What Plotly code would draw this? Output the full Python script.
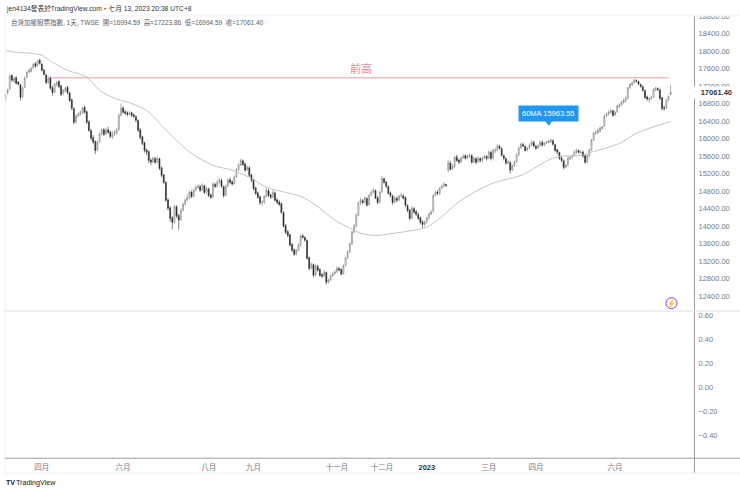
import plotly.graph_objects as go
from plotly.subplots import make_subplots

# Daily bars of the TWSE index, ten bars per row.
opens = [
    16900, 17050, 17140, 17440, 17300, 17390, 17290, 17220, 16960, 17180,
    17400, 17520, 17530, 17620, 17710, 17670, 17790, 17700, 17560, 17450,
    17290, 17390, 17160, 17060, 17230, 17300, 17200, 17030, 17090, 17170,
    17040, 16880, 16680, 16380, 16520, 16560, 16590, 16710, 16610, 16380,
    16180, 16020, 15930, 15750, 15930, 16110, 16200, 16110, 16200, 16150,
    16040, 16110, 16130, 16210, 16540, 16700, 16610, 16590, 16560, 16590,
    16540, 16500, 16410, 16200, 16040, 15900, 15740, 15700, 15510, 15470,
    15540, 15470, 15540, 15330, 15170, 15000, 14600, 14420, 14190, 14100,
    14440, 14240, 14150, 14370, 14510, 14600, 14650, 14780, 14690, 14830,
    14880, 14900, 14830, 14920, 14780, 14850, 14710, 14670, 14950, 14920,
    15010, 15040, 14900, 14710, 14920, 15060, 15010, 14970, 15130, 15290,
    15400, 15490, 15420, 15290, 15330, 15170, 15060, 14870, 14760, 14670,
    14530, 14550, 14690, 14810, 14710, 14670, 14760, 14600, 14550, 14510,
    14310, 14010, 13870, 13800, 13580, 13460, 13370, 13460, 13580, 13780,
    13740, 13670, 13280, 13050, 13120, 12890, 13080, 13010, 12890, 12870,
    12940, 12730, 12780, 12870, 12920, 12960, 13030, 13010, 12920, 13100,
    13280, 13420, 13600, 13870, 14010, 14260, 14530, 14580, 14550, 14630,
    14490, 14710, 14780, 14810, 14650, 14550, 14780, 15080, 15010, 14900,
    14760, 14690, 14550, 14630, 14600, 14690, 14690, 14650, 14470, 14370,
    14190, 14400, 14330, 14260, 14190, 14100, 14050, 14100, 14190, 14280,
    14340, 14710, 14780, 14740, 14870, 14920, 14950, 15270, 15440, 15310,
    15360, 15580, 15510, 15470, 15560, 15610, 15560, 15590, 15610, 15470,
    15540, 15470, 15540, 15510, 15560, 15590, 15560, 15680, 15560, 15720,
    15740, 15820, 15770, 15610, 15540, 15450, 15450, 15290, 15380, 15470,
    15630, 15790, 15860, 15820, 15740, 15790, 15860, 15910, 15820, 15790,
    15840, 15910, 15860, 15900, 15910, 15930, 15950, 15860, 15740, 15680,
    15560, 15490, 15350, 15400, 15540, 15580, 15610, 15680, 15720, 15680,
    15690, 15610, 15470, 15610, 15740, 15970, 16130, 16130, 16170, 16230,
    16280, 16520, 16560, 16590, 16630, 16540, 16610, 16730, 16770, 16820,
    16860, 16930, 17160, 17230, 17270, 17320, 17300, 17230, 17180, 17090,
    16950, 16890, 16910, 16950, 17110, 17140, 17110, 16930, 16700, 16700,
    16880, 16994.59,
]
highs = [
    17030, 17140, 17470, 17470, 17410, 17420, 17310, 17250, 17190, 17420,
    17540, 17600, 17640, 17730, 17740, 17800, 17820, 17720, 17590, 17480,
    17420, 17420, 17200, 17270, 17310, 17330, 17230, 17130, 17190, 17200,
    17070, 16920, 16710, 16550, 16600, 16640, 16730, 16760, 16640, 16420,
    16220, 16080, 15960, 15950, 16140, 16230, 16240, 16240, 16270, 16180,
    16170, 16190, 16240, 16580, 16800, 16740, 16650, 16620, 16630, 16610,
    16570, 16530, 16440, 16240, 16060, 15930, 15770, 15730, 15550, 15590,
    15580, 15590, 15560, 15360, 15190, 15020, 14640, 14450, 14230, 14490,
    14480, 14280, 14410, 14540, 14630, 14720, 14810, 14810, 14860, 14930,
    14970, 14950, 14980, 14950, 14900, 14880, 14750, 15000, 14990, 15050,
    15100, 15080, 14930, 14950, 15090, 15110, 15050, 15160, 15320, 15440,
    15540, 15520, 15450, 15390, 15370, 15190, 15090, 14900, 14790, 14700,
    14590, 14710, 14880, 14850, 14740, 14820, 14790, 14640, 14600, 14540,
    14340, 14050, 13910, 13830, 13620, 13490, 13480, 13610, 13810, 13820,
    13770, 13700, 13310, 13170, 13150, 13130, 13120, 13040, 12930, 12990,
    12970, 12800, 12900, 12950, 13000, 13080, 13070, 13030, 13130, 13300,
    13450, 13630, 13900, 14050, 14290, 14560, 14650, 14620, 14680, 14660,
    14740, 14810, 14870, 14840, 14680, 14810, 15140, 15110, 15030, 14930,
    14790, 14720, 14680, 14680, 14720, 14760, 14730, 14680, 14500, 14390,
    14450, 14440, 14370, 14310, 14220, 14130, 14130, 14220, 14310, 14370,
    14730, 14810, 14820, 14890, 14950, 15000, 14970, 15500, 15490, 15420,
    15610, 15630, 15540, 15590, 15640, 15640, 15630, 15660, 15640, 15590,
    15580, 15590, 15570, 15590, 15630, 15620, 15730, 15720, 15770, 15790,
    15870, 15860, 15800, 15640, 15570, 15510, 15480, 15410, 15500, 15660,
    15820, 15900, 15910, 15840, 15810, 15890, 15960, 15950, 15860, 15870,
    15960, 15960, 15920, 15950, 15980, 15990, 15980, 15880, 15770, 15700,
    15600, 15520, 15430, 15590, 15600, 15640, 15730, 15770, 15760, 15720,
    15730, 15640, 15640, 15770, 15990, 16150, 16180, 16230, 16280, 16290,
    16550, 16590, 16640, 16680, 16660, 16640, 16780, 16800, 16860, 16910,
    16970, 17180, 17270, 17300, 17360, 17350, 17320, 17260, 17210, 17120,
    16980, 16940, 16970, 17150, 17180, 17170, 17140, 16950, 16750, 16900,
    16990, 17223.86,
]
lows = [
    16860, 17000, 17100, 17300, 17270, 17240, 17210, 16870, 16920, 17150,
    17370, 17490, 17510, 17590, 17620, 17640, 17690, 17530, 17440, 17240,
    17240, 17110, 16980, 17030, 17190, 17150, 16970, 17000, 17060, 17010,
    16840, 16650, 16330, 16340, 16480, 16520, 16560, 16570, 16340, 16150,
    15960, 15870, 15650, 15700, 15900, 16080, 16060, 16080, 16110, 16010,
    15990, 16060, 16090, 16180, 16500, 16570, 16540, 16510, 16530, 16490,
    16470, 16370, 16150, 15980, 15850, 15680, 15620, 15440, 15390, 15440,
    15420, 15430, 15280, 15120, 14960, 14560, 14360, 14100, 13930, 14060,
    14190, 13920, 14120, 14340, 14470, 14570, 14620, 14640, 14660, 14790,
    14850, 14780, 14800, 14740, 14750, 14660, 14620, 14640, 14870, 14880,
    14970, 14880, 14650, 14680, 14890, 14970, 14930, 14950, 15100, 15260,
    15370, 15370, 15240, 15260, 15120, 15000, 14810, 14710, 14620, 14480,
    14470, 14510, 14650, 14670, 14620, 14630, 14560, 14500, 14460, 14280,
    13970, 13820, 13740, 13530, 13410, 13320, 13330, 13430, 13540, 13720,
    13650, 13230, 12990, 13010, 12830, 12860, 12960, 12840, 12810, 12840,
    12670, 12690, 12750, 12840, 12890, 12930, 12970, 12880, 12900, 13080,
    13250, 13390, 13570, 13840, 13970, 14230, 14480, 14510, 14510, 14450,
    14470, 14680, 14750, 14620, 14500, 14520, 14760, 14970, 14870, 14720,
    14660, 14490, 14520, 14550, 14570, 14650, 14610, 14440, 14320, 14130,
    14150, 14280, 14230, 14140, 14040, 13960, 13990, 14060, 14150, 14250,
    14320, 14680, 14710, 14720, 14850, 14890, 14900, 15240, 15270, 15280,
    15330, 15470, 15420, 15440, 15530, 15520, 15530, 15560, 15430, 15440,
    15420, 15440, 15460, 15470, 15530, 15500, 15530, 15500, 15520, 15670,
    15710, 15750, 15590, 15500, 15400, 15420, 15200, 15260, 15350, 15450,
    15600, 15760, 15800, 15700, 15710, 15760, 15830, 15800, 15740, 15760,
    15810, 15820, 15830, 15880, 15890, 15900, 15840, 15700, 15640, 15510,
    15460, 15300, 15330, 15370, 15510, 15540, 15590, 15650, 15660, 15650,
    15560, 15420, 15440, 15570, 15720, 15940, 16080, 16100, 16140, 16200,
    16260, 16490, 16530, 16570, 16500, 16510, 16590, 16700, 16740, 16800,
    16830, 16900, 17130, 17200, 17250, 17280, 17220, 17160, 17070, 16900,
    16860, 16810, 16890, 16930, 17080, 17090, 16880, 16640, 16630, 16680,
    16860, 16994.59,
]
closes = [
    16990, 17100, 17420, 17330, 17370, 17260, 17240, 16940, 17150, 17370,
    17510, 17560, 17600, 17690, 17650, 17760, 17720, 17560, 17470, 17280,
    17370, 17150, 17050, 17240, 17280, 17190, 17010, 17100, 17150, 17050,
    16870, 16690, 16370, 16510, 16550, 16580, 16690, 16600, 16370, 16190,
    16010, 15920, 15730, 15920, 16100, 16190, 16100, 16190, 16140, 16050,
    16100, 16140, 16190, 16530, 16690, 16600, 16580, 16550, 16580, 16530,
    16510, 16420, 16190, 16030, 15890, 15730, 15690, 15500, 15460, 15550,
    15460, 15550, 15320, 15160, 15000, 14590, 14410, 14180, 14090, 14450,
    14230, 14140, 14360, 14500, 14590, 14640, 14770, 14680, 14820, 14890,
    14910, 14820, 14930, 14770, 14860, 14700, 14660, 14960, 14910, 15000,
    15050, 14910, 14700, 14910, 15050, 15000, 14960, 15120, 15280, 15390,
    15500, 15410, 15280, 15340, 15160, 15050, 14860, 14750, 14660, 14540,
    14540, 14680, 14820, 14700, 14660, 14770, 14590, 14540, 14500, 14320,
    14000, 13860, 13790, 13570, 13450, 13360, 13450, 13570, 13770, 13750,
    13680, 13270, 13040, 13130, 12880, 13090, 13000, 12880, 12860, 12950,
    12720, 12770, 12860, 12910, 12950, 13040, 13000, 12910, 13090, 13270,
    13410, 13590, 13860, 14000, 14250, 14520, 14590, 14540, 14640, 14480,
    14700, 14770, 14820, 14640, 14540, 14770, 15090, 15000, 14910, 14750,
    14700, 14540, 14640, 14590, 14680, 14700, 14640, 14480, 14360, 14180,
    14410, 14320, 14270, 14180, 14090, 14040, 14090, 14180, 14270, 14320,
    14700, 14770, 14750, 14860, 14910, 14960, 14930, 15450, 15300, 15370,
    15570, 15500, 15460, 15550, 15600, 15550, 15600, 15620, 15460, 15550,
    15460, 15550, 15500, 15550, 15600, 15550, 15690, 15550, 15730, 15730,
    15830, 15780, 15620, 15550, 15440, 15460, 15280, 15370, 15460, 15620,
    15780, 15870, 15830, 15730, 15780, 15850, 15920, 15830, 15780, 15830,
    15920, 15850, 15890, 15920, 15940, 15960, 15870, 15730, 15690, 15550,
    15500, 15340, 15390, 15550, 15570, 15600, 15690, 15730, 15690, 15690,
    15600, 15460, 15600, 15730, 15960, 16120, 16140, 16190, 16240, 16260,
    16510, 16550, 16600, 16640, 16530, 16600, 16740, 16760, 16830, 16870,
    16920, 17150, 17240, 17260, 17330, 17310, 17240, 17190, 17100, 16940,
    16900, 16900, 16940, 17120, 17150, 17120, 16920, 16690, 16690, 16870,
    16960, 17061.40,
]

# 60 day average, read at the bars where the curve bends
ma_bars = [0, 5, 13, 17, 22, 29, 38, 44, 52, 59, 66, 73, 80, 87, 97, 106, 115, 122, 131,
           138, 145, 154, 162, 166, 173, 182, 191, 197, 203, 211, 219, 229, 241, 257,
           270, 272, 287, 295, 311]
ma_values = [18010, 17970, 17940, 17900, 17740, 17560, 17400, 17100, 16900, 16800, 16640,
             16300, 15960, 15660, 15390, 15280, 15090, 14890, 14770, 14680, 14480, 14140,
             13930, 13840, 13790, 13840, 13910, 13980, 14180, 14520, 14770, 15000, 15160,
             15570, 15620, 15660, 15890, 16120, 16390]

prev_high_bars = [21, 310]
prev_high = [17385, 17385]

tick_bars = [17, 55, 95, 116, 155, 176, 197, 226, 248, 285]
tick_names = ["四月", "六月", "八月", "九月", "十一月", "十二月",
              "<b><span style='color:#333'>2023</span></b>", "三月", "四月", "六月"]
price_ticks = [12400, 12800, 13200, 13600, 14000, 14400, 14800, 15200, 15600,
               16000, 16400, 16800, 17200, 17600, 18000, 18400, 18800]
lower_ticks = [-0.4, -0.2, 0, 0.2, 0.4, 0.6]

WIDTH = 740
HEIGHT = 492
FONT = "Liberation Sans, Noto Sans CJK TC, sans-serif"
AXIS_GREY = "#9a9a9a"
TEXT_GREY = "#787b86"


def px(x):
    return x / WIDTH


def py(y):
    # paper fraction from a distance measured off the top of the page
    return 1 - y / HEIGHT


def paper_line(x0, y0, x1, y1, color, width=1):
    return dict(type="line", xref="paper", yref="paper", layer="above",
                x0=px(x0), y0=py(y0), x1=px(x1), y1=py(y1),
                line=dict(color=color, width=width))


def text_note(x, y, text, size, color, anchor="left"):
    return dict(xref="paper", yref="paper", x=px(x), y=py(y), text=text, showarrow=False,
                xanchor=anchor, yanchor="middle",
                font=dict(family=FONT, size=size, color=color))


def main():
    bars = list(range(len(closes)))
    fig = make_subplots(rows=2, cols=1, shared_xaxes=True)

    fig.add_trace(go.Candlestick(
        x=bars, open=opens, high=highs, low=lows, close=closes,
        increasing=dict(fillcolor="#ffffff", line=dict(color="#777777", width=0.6)),
        decreasing=dict(fillcolor="#2a2a2a", line=dict(color="#2a2a2a", width=0.6)),
        whiskerwidth=0,
    ), row=1, col=1)
    fig.add_trace(go.Scatter(x=ma_bars, y=ma_values, mode="lines",
                             line=dict(color="#c8c3c3", width=1, shape="spline")), row=1, col=1)
    fig.add_trace(go.Scatter(x=prev_high_bars, y=prev_high, mode="lines",
                             line=dict(color="#ee9aa2", width=1)), row=1, col=1)
    # little pointer under the 60MA callout
    fig.add_trace(go.Scatter(x=[254], y=[16370], mode="markers",
                             marker=dict(symbol="triangle-down", size=7, color="#2196f3")),
                  row=1, col=1)
    # empty lower pane, it needs a trace for its axes to be drawn
    fig.add_trace(go.Scatter(x=[0], y=[0], mode="lines", line=dict(width=0)), row=2, col=1)

    fig.update_xaxes(range=[-0.23, 322.4], showgrid=False, zeroline=False, showline=False,
                     rangeslider_visible=False)
    fig.update_xaxes(showticklabels=False, ticks="", row=1, col=1)
    fig.update_xaxes(tickmode="array", tickvals=tick_bars, ticktext=tick_names, ticks="outside",
                     ticklen=2, tickcolor="rgba(0,0,0,0)", showticklabels=True,
                     tickfont=dict(family=FONT, size=7.5, color=TEXT_GREY), row=2, col=1)
    fig.update_yaxes(side="right", showgrid=False, zeroline=False, showline=False, ticks="outside",
                     ticklen=1, tickcolor="rgba(0,0,0,0)", tickformat=".2f",
                     tickfont=dict(family=FONT, size=7.5, color=TEXT_GREY))
    fig.update_yaxes(range=[12084, 18833], tickmode="array", tickvals=price_ticks, row=1, col=1)
    fig.update_yaxes(range=[-0.595, 0.63], tickmode="array", tickvals=lower_ticks, row=2, col=1)

    fig.update_layout(
        width=WIDTH, height=HEIGHT, showlegend=False, boxgap=0.35,
        margin=dict(l=0, r=0, t=0, b=0),
        paper_bgcolor="white", plot_bgcolor="white",
        xaxis=dict(domain=[px(5), px(695)]),
        xaxis2=dict(domain=[px(5), px(695)]),
        yaxis=dict(domain=[py(309), py(11.5)]),
        yaxis2=dict(domain=[py(458), py(311)]),
        shapes=[
            # hides the upper half of the clipped 18800 label
            dict(type="rect", xref="paper", yref="paper", layer="above", x0=px(696), x1=1,
                 y0=py(13), y1=1, fillcolor="white", line=dict(width=0)),
            paper_line(694.5, 13, 694.5, 473, AXIS_GREY),
            paper_line(5, 13, 5, 473, "#f0f0f0"),
            paper_line(5, 13, 740, 13, "#f4f4f4"),
            paper_line(5, 310, 740, 310, "#e4e4e4"),
            paper_line(5, 458, 740, 458, "#9e9e9e"),
            paper_line(5, 473, 740, 473, "#f0f0f0"),
            dict(type="circle", xref="paper", yref="paper", layer="above",
                 x0=px(666), x1=px(677), y0=py(307.5), y1=py(296.5),
                 fillcolor="white", line=dict(color="#9c3fb5", width=1)),
        ],
        annotations=[
            text_note(4, 6, "jen4134發表於TradingView.com・七月 13, 2023 20:38 UTC+8", 6.7, "#333333"),
            text_note(9, 19.5, "台灣加權股票指數, 1天, TWSE&nbsp;&nbsp;開=16994.59&nbsp;&nbsp;高=17223.86"
                               "&nbsp;&nbsp;低=16994.59&nbsp;&nbsp;收=17061.40", 6.5, "#5d606b"),
            dict(x=166, y=prev_high[0], yshift=9, text="前高", showarrow=False,
                 font=dict(family=FONT, size=11, color="#e88a92"), xref="x", yref="y"),
            dict(x=254, y=16566, text="60MA 15963.55", showarrow=False, xref="x", yref="y",
                 bgcolor="#2196f3", borderpad=3,
                 font=dict(family=FONT, size=7.5, color="white")),
            dict(xref="paper", yref="y", x=px(693), y=closes[-1], text="<b>17061.40</b>",
                 showarrow=False, xanchor="left", align="right", bgcolor="white", width=37, height=9,
                 font=dict(family=FONT, size=7.5, color="#333333")),
            text_note(671.5, 302, "⚡", 7, "#9c3fb5", "center"),
            text_note(4, 482.5, "<b>TV</b>", 7, "#131722"),
            text_note(14, 482.5, "TradingView", 7.2, "#131722"),
        ],
    )

    fig.write_html("out.html", config=dict(displayModeBar=False),
                   post_script="document.body.style.margin='0';")


if __name__ == "__main__":
    main()
